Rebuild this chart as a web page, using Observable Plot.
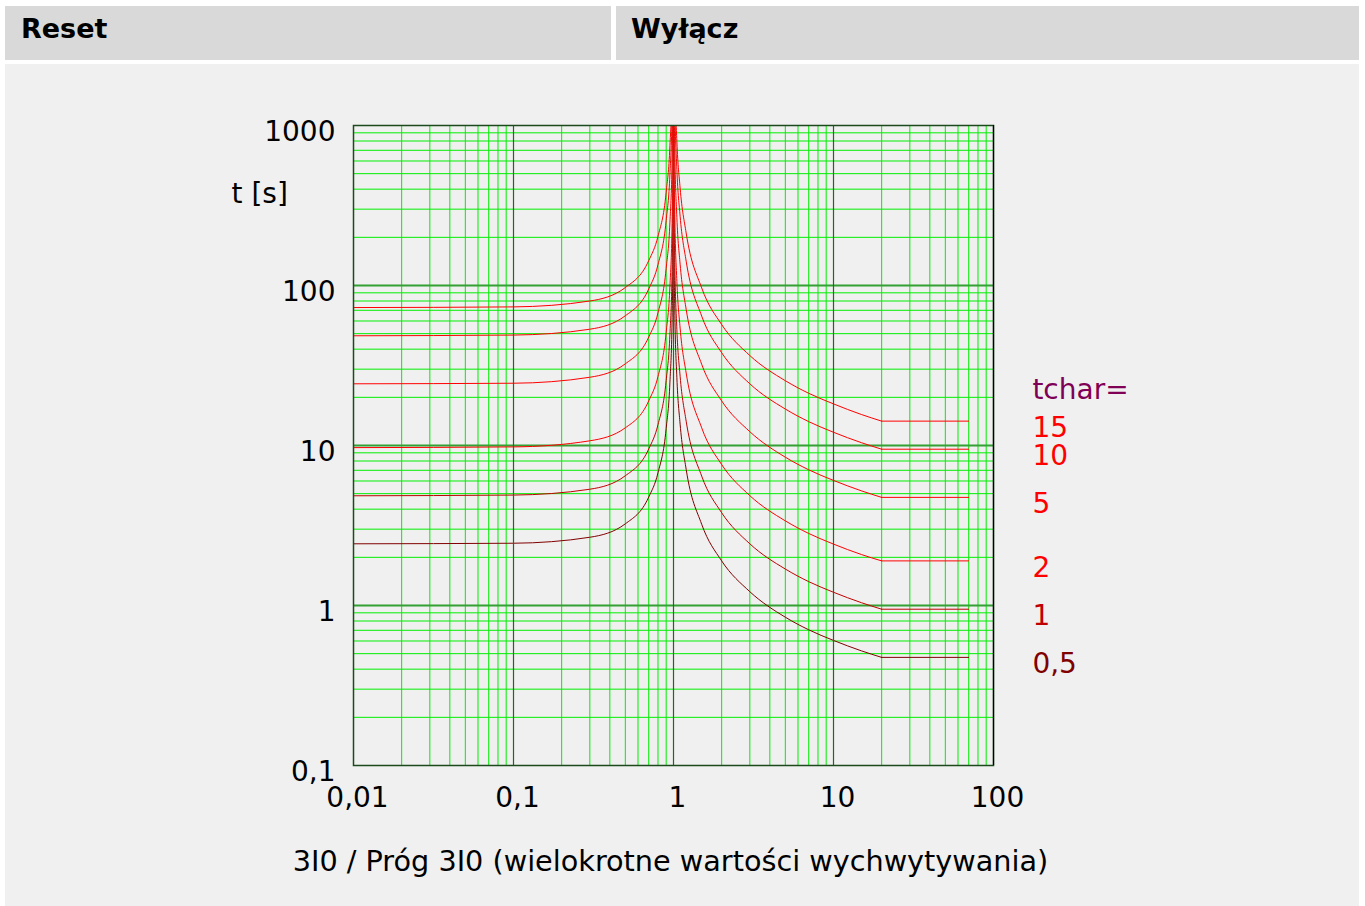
<!DOCTYPE html>
<html><head><meta charset="utf-8">
<script src="https://cdn.jsdelivr.net/npm/d3@7"></script>
<script src="https://cdn.jsdelivr.net/npm/@observablehq/plot@0.6"></script>
<style>
html,body{margin:0;padding:0;background:#fff;width:1365px;height:906px;overflow:hidden;font-family:"DejaVu Sans",sans-serif;}
.hdr{position:absolute;top:6px;height:54px;background:#d9d9d9;font-weight:bold;font-size:27px;line-height:46px;box-sizing:border-box;color:#000;}
#h1{left:5px;width:606px;padding-left:16px;}
#h2{left:616px;width:743px;padding-left:15px;}
#panel{position:absolute;left:5px;top:64px;width:1354px;height:842px;background:#f0f0f0;}
#panel svg{display:block;}
</style></head>
<body>
<div class="hdr" id="h1">Reset</div>
<div class="hdr" id="h2">Wyłącz</div>
<div id="panel"></div>
<script>
// ---- data ----
const tcharValues = [0.5, 1, 2, 5, 10, 15];
const tcharLabels = ["0,5", "1", "2", "5", "10", "15"];
const tcharColors = ["#800000", "#c00000", "#ff0000", "#ff0000", "#ff0000", "#ff0000"];

// reset branch (I/Ipickup < 1)
const xReset = [0.01, 0.1, 0.3, 0.5, 0.7, 0.8, 0.9, 0.95, 0.98, 0.99, 0.995, 0.998, 0.999];
// trip branch (I/Ipickup > 1)
const xTrip = [1.001, 1.002, 1.005, 1.01, 1.02, 1.05, 1.1, 1.2, 1.5, 2, 3, 5, 7, 10, 15, 20];
const xFlatStart = 20;
const xFlatEnd = 70;

const tReset_05 = [2.43, 2.45, 2.67, 3.24, 4.76, 6.75, 12.8, 24.9, 61, 122, 243, 607, 1213];
const tReset_1  = [4.85, 4.90, 5.33, 6.47, 9.51, 13.5, 25.5, 49.7, 122, 244, 486, 1214, 2426];
const tReset_2  = [9.70, 9.80, 10.7, 12.9, 19.0, 27.0, 51.0, 99.4, 244, 488, 972, 2428, 4852];
const tReset_5  = [24.3, 24.5, 26.7, 32.4, 47.6, 67.5, 128, 249, 610, 1220, 2430, 6070, 12130];
const tReset_10 = [48.5, 49.0, 53.3, 64.7, 95.1, 135, 255, 497, 1220, 2440, 4860, 12140, 24260];
const tReset_15 = [72.8, 73.5, 80.0, 97.1, 143, 203, 383, 746, 1830, 3660, 7290, 18210, 36390];

const tTrip_05 = [1288, 645, 258, 130, 65, 26.5, 13.6, 7.1, 3.22, 1.90, 1.22, 0.845, 0.705, 0.605, 0.52, 0.474];
const tTrip_1  = [2576, 1289, 516, 259, 130, 52.9, 27.1, 14.2, 6.44, 3.80, 2.43, 1.69, 1.41, 1.21, 1.04, 0.948];
const tTrip_2  = [5152, 2578, 1032, 518, 260, 106, 54.2, 28.4, 12.9, 7.6, 4.86, 3.38, 2.82, 2.42, 2.08, 1.90];
const tTrip_5  = [12880, 6445, 2580, 1295, 650, 265, 136, 71, 32.2, 19.0, 12.2, 8.45, 7.05, 6.05, 5.2, 4.74];
const tTrip_10 = [25760, 12890, 5160, 2590, 1300, 529, 271, 142, 64.4, 38.0, 24.3, 16.9, 14.1, 12.1, 10.4, 9.48];
const tTrip_15 = [38640, 19335, 7740, 3885, 1950, 794, 407, 213, 96.6, 57.0, 36.5, 25.4, 21.2, 18.2, 15.6, 14.2];

const tEnd = [0.474, 0.948, 1.90, 4.74, 9.48, 14.2];

const xTickValues = [0.01, 0.1, 1, 10, 100];
const xTickLabels = ["0,01", "0,1", "1", "10", "100"];
const yTickValues = [0.1, 1, 10, 100, 1000];
const yTickLabels = ["0,1", "1", "10", "100", "1000"];
const xMajor = [0.1, 1, 10];
const yMajor = [1, 10, 100];

const legendTitle = "tchar=";
const legendTitleY = 24.5;
const legendX = 175;
const yTitle = "t [s]";
const xTitle = "3I0 / Próg 3I0 (wielokrotne wartości wychwytywania)";

// ---- build tables ----
const resetSeries = [tReset_05, tReset_1, tReset_2, tReset_5, tReset_10, tReset_15];
const tripSeries = [tTrip_05, tTrip_1, tTrip_2, tTrip_5, tTrip_10, tTrip_15];
const series = tcharValues.map((tc, i) => ({
  tchar: tc,
  color: tcharColors[i],
  points: [
    ...xReset.map((x, j) => ({x, t: resetSeries[i][j]})),
    ...xTrip.map((x, j) => ({x, t: tripSeries[i][j]}))
  ],
  flat: [{x: xFlatStart, t: tEnd[i]}, {x: xFlatEnd, t: tEnd[i]}]
}));
const legendRows = tcharValues.map((tc, i) => ({label: tcharLabels[i], y: tEnd[i], color: tcharColors[i]}));

const fmtX = d => xTickLabels[xTickValues.indexOf(d)] ?? String(d);
const fmtY = d => yTickLabels[yTickValues.indexOf(d)] ?? String(d);

const FS = 28;
const plot = Plot.plot({
  width: 1354, height: 842,
  marginLeft: 348, marginRight: 366, marginTop: 61, marginBottom: 141,
  x: {type: "log", domain: [0.01, 100]},
  y: {type: "log", domain: [0.1, 1000]},
  style: {background: "transparent", fontFamily: "DejaVu Sans, sans-serif", fontSize: FS + "px", color: "#000", overflow: "visible"},
  marks: [
    Plot.gridX({ticks: 60, stroke: "#00ee00", strokeOpacity: 1, strokeWidth: 1}),
    Plot.gridY({ticks: 60, stroke: "#00ee00", strokeOpacity: 1, strokeWidth: 1}),
    Plot.ruleY(yMajor, {stroke: "#33a033", strokeWidth: 2}),
    ...series.map(s => Plot.line(s.points, {x: "x", y: "t", stroke: s.color, strokeWidth: 1, curve: "monotone-x", clip: true})),
    ...series.map(s => Plot.line(s.flat, {x: "x", y: "t", stroke: s.color, strokeWidth: 1})),
    Plot.ruleX(xMajor, {stroke: "#1e6a1e", strokeWidth: 1.2}),
    Plot.frame({stroke: "#1d4a1d", strokeWidth: 1.5}),
    Plot.ruleX([100], {stroke: "#000", strokeWidth: 1.2}),
    Plot.axisY({ticks: yTickValues, tickFormat: fmtY, tickSize: 0, tickPadding: 18, fontSize: FS, dy: 7, label: null}),
    Plot.axisX({ticks: xTickValues, tickFormat: fmtX, tickSize: 0, tickPadding: 22, fontSize: FS, dx: 4, label: null}),
    Plot.text(legendRows, {x: () => legendX, y: "y", text: "label", fill: d => d.color, textAnchor: "start", fontSize: FS, dy: 7}),
    Plot.text([legendTitle], {x: () => legendX, y: () => legendTitleY, text: d => d, fill: "#800055", textAnchor: "start", fontSize: FS, dy: 7}),
    Plot.text([yTitle], {frameAnchor: "top-left", text: d => d, dx: -122, dy: 58, textAnchor: "start", fontSize: FS}),
    Plot.text([xTitle], {frameAnchor: "bottom", text: d => d, dx: -3, dy: 105, fontSize: 28.7})
  ]
});
document.getElementById("panel").appendChild(plot);
</script>
</body></html>
